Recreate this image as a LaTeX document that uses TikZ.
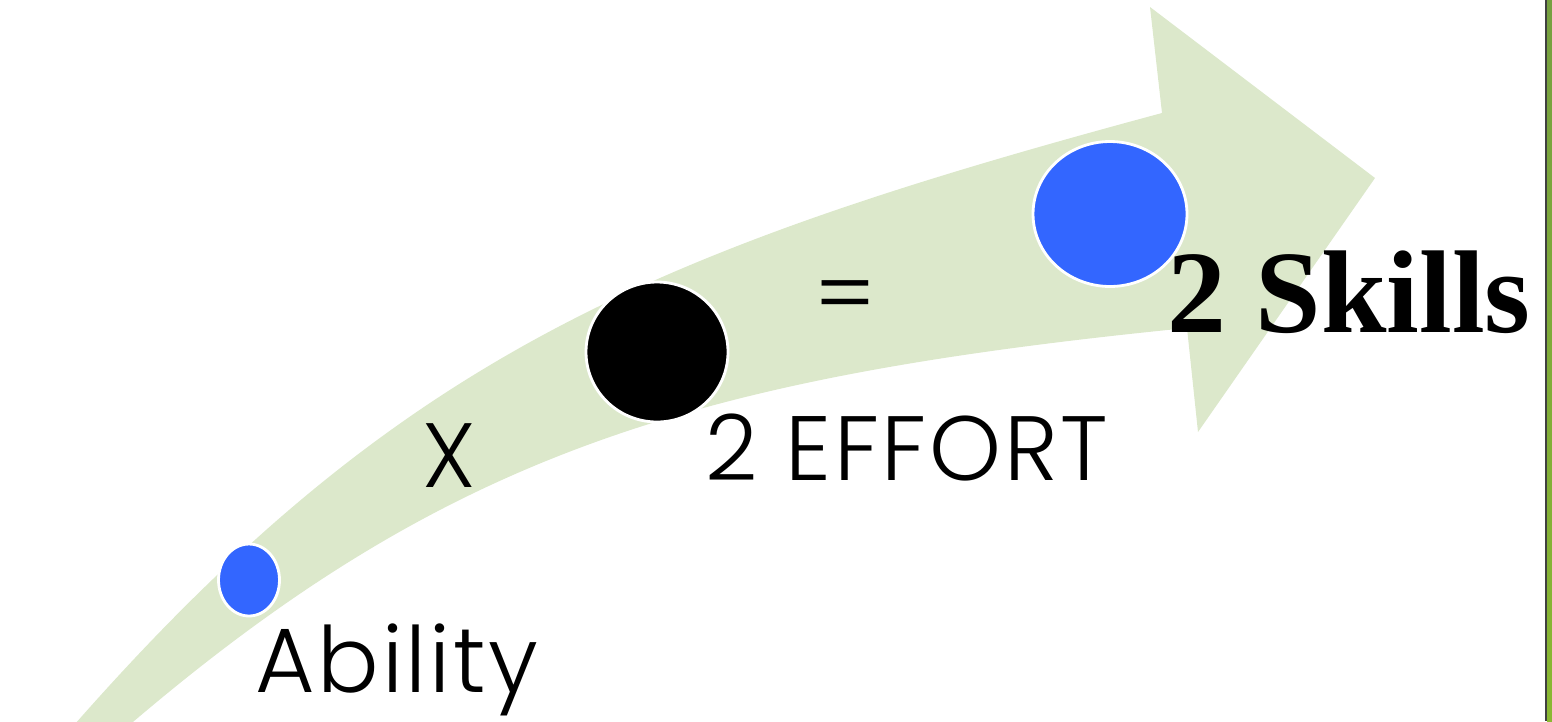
\documentclass[tikz,border=0pt]{standalone}
\usepackage{fontspec}
\setmainfont{Liberation Serif}
\newfontfamily\thinfont[LetterSpace=3]{Poppins Light}
\usetikzlibrary{shapes.geometric}
\definecolor{shaftgreen}{HTML}{DCE8CB}
\definecolor{dotblue}{HTML}{3366FF}
\definecolor{barlime}{HTML}{8AB832}
\definecolor{barolive}{HTML}{76A040}
\tikzset{
    dot/.style={ellipse, draw=white, line width=1.6pt, inner sep=0pt},
    bluedot/.style={dot, fill=dotblue},
    blackdot/.style={dot, fill=black},
    thintext/.style={font=\thinfont\fontsize{52}{60}\selectfont, inner sep=0pt, anchor=base west},
    boldtext/.style={font=\bfseries\fontsize{67}{72}\selectfont, inner sep=0pt, anchor=base west}
}
\begin{document}
\begin{tikzpicture}[x=0.02cm, y=-0.02cm]
\useasboundingbox (0,0) rectangle (1552,721);

% Curved arrow
\begin{scope}
\clip (0,0) rectangle (1552,721);
\fill[shaftgreen] (61,740) .. controls (391,360) and (642,253) .. (1162,113)
    -- (1150,7) -- (1375,178) -- (1198,432) -- (1187,328)
    .. controls (687,378) and (440,455) .. (112,740) -- cycle;
\end{scope}

% Right edge bar
\fill[top color=barolive, bottom color=barlime] (1547,0) rectangle (1552,721);
\fill[black!75] (1545,0) rectangle (1547,721);

% Dots
\node (abilitydot) [bluedot, minimum width=1.22cm, minimum height=1.44cm] at (249,580) {};
\node (effortdot) [blackdot, minimum width=2.84cm, minimum height=2.80cm] at (657,352) {};
\node (skillsdot) [bluedot, minimum width=3.08cm, minimum height=2.90cm] at (1110,214) {};

% Labels
\node (ability) [thintext] at (255,692) {Ability};
\node (times) [thintext, anchor=base] at (449,487) {X};
\node (effort) [thintext] at (705,480) {2 EFFORT};
\node (equals) [thintext, anchor=base] at (845,326) {=};
\node (skills) [boldtext] at (1167,332) {2 Skills};

\end{tikzpicture}
\end{document}
